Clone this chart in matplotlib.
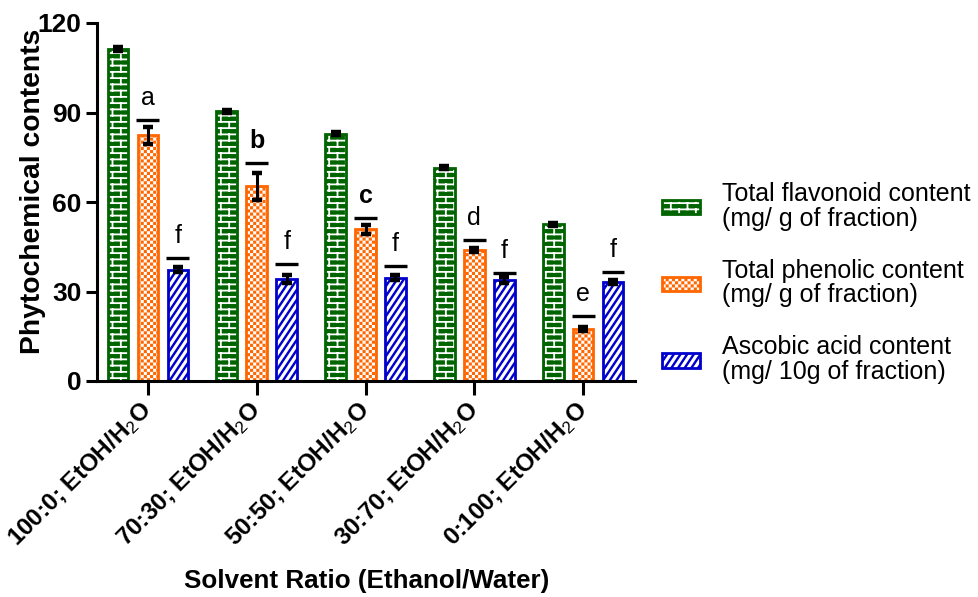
import matplotlib
matplotlib.use("Agg")
import matplotlib.pyplot as plt
import matplotlib.hatch as mhatch
import matplotlib.transforms as mtransforms
from matplotlib.path import Path
from matplotlib.patches import Patch
from matplotlib.legend_handler import HandlerTuple
import numpy as np

plt.rcParams['font.family'] = ['Liberation Sans', 'DejaVu Sans']
plt.rcParams['mathtext.fontset'] = 'custom'
plt.rcParams['mathtext.rm'] = 'Liberation Sans'
plt.rcParams['mathtext.it'] = 'Liberation Sans:italic'
plt.rcParams['mathtext.bf'] = 'Liberation Sans:bold'
plt.rcParams['mathtext.default'] = 'rm'
plt.rcParams['hatch.color'] = 'white'
plt.rcParams['hatch.linewidth'] = 1.3

# ---------------- data ----------------
categories = ["100:0; EtOH/H$_2$O", "70:30; EtOH/H$_2$O", "50:50; EtOH/H$_2$O",
              "30:70; EtOH/H$_2$O", "0:100; EtOH/H$_2$O"]
series_names = ["Total flavonoid content\n(mg/ g of fraction)",
                "Total phenolic content\n(mg/ g of fraction)",
                "Ascobic acid content\n(mg/ 10g of fraction)"]
tfc = [111.3, 90.4, 82.9, 71.5, 52.6]
tfc_err = [0.6, 0.5, 0.4, 0.4, 0.5]
tpc = [82.3, 65.3, 50.8, 43.9, 17.4]
tpc_err = [2.8, 4.5, 1.5, 0.6, 0.6]
aac = [37.3, 34.3, 34.6, 33.9, 33.1]
aac_err = [0.8, 1.3, 0.9, 0.9, 0.7]

tpc_sig_y = [87.5, 73.2, 54.7, 47.3, 21.8]
tpc_sig = ['a', 'b', 'c', 'd', 'e']
tpc_sig_bold = [False, True, True, False, False]
aac_sig_y = [41.2, 39.3, 38.7, 36.3, 36.5]
aac_sig = ['f', 'f', 'f', 'f', 'f']

yticks = [0, 30, 60, 90, 120]


# ---------------- custom fill patterns (brick / checkerboard / braid) ----------------
class _SegHatch(mhatch.HatchPatternBase):
    char = None

    def __init__(self, hatch, density):
        self.active = (hatch is not None) and (self.char in hatch)
        self.polys = self.build() if self.active else []
        self.num_vertices = sum(len(p) + (1 if c else 0) for p, c in self.polys)

    def set_vertices_and_codes(self, vertices, codes):
        i = 0
        for pts, closed in self.polys:
            for k, pt in enumerate(pts):
                vertices[i] = pt
                codes[i] = Path.MOVETO if k == 0 else Path.LINETO
                i += 1
            if closed:
                vertices[i] = pts[0]
                codes[i] = Path.CLOSEPOLY
                i += 1


class BrickHatch(_SegHatch):
    char = 'O'

    def build(self):
        rows, cols = 16, 6
        h = 1.0 / rows
        polys = []
        for r in range(rows):
            y = (r + 0.5) * h
            polys.append(([(0, y), (1, y)], False))
            shift = 0.5 / cols if r % 2 else 0.0
            for c in range(cols):
                x = (c + 0.25) / cols + shift
                if r < rows - 1:
                    polys.append(([(x, y), (x, y + h)], False))
                else:
                    polys.append(([(x, y), (x, 1.0)], False))
                    polys.append(([(x, 0.0), (x, 0.5 * h)], False))
        return polys


class CheckerHatch(_SegHatch):
    char = '.'

    def build(self):
        n = 32
        s = 1.0 / n
        d = 0.009
        polys = []
        for i in range(n):
            for j in range(n):
                if (i + j) % 2 == 0:
                    x0, y0 = i * s + d, j * s + d
                    x1, y1 = (i + 1) * s - d, (j + 1) * s - d
                    polys.append(([(x0, y0), (x1, y0), (x1, y1), (x0, y1)], True))
        return polys


class BraidHatch(_SegHatch):
    char = '*'

    def build(self):
        n = 10
        k = 1.5
        t = 0.012
        polys = []
        xa, xb = -0.05, 1.05
        for j in range(-3 * n, n + 3):
            c = j / n
            polys.append(([(xa, k * xa + c - t), (xb, k * xb + c - t),
                           (xb, k * xb + c + t), (xa, k * xa + c + t)], True))
        return polys


mhatch._hatch_types = [BrickHatch, CheckerHatch, BraidHatch]

# ---------------- style ----------------
colors = ['#006400', '#FF6600', '#0000CC']
hatches = ['O', '.', '*']
width = 0.19
offsets = [-0.275, 0.0, 0.275]

fig = plt.figure(figsize=(9.79, 5.97), dpi=100)
ax = fig.add_axes([97/979, (597-381)/597, (635-97)/979, (381-23)/597])

x = np.arange(len(categories))
values = [tfc, tpc, aac]
errs = [tfc_err, tpc_err, aac_err]
for vals, err, c, h, off in zip(values, errs, colors, hatches, offsets):
    ax.bar(x + off, vals, width, color=c, hatch=h, linewidth=0, zorder=2)
    ax.bar(x + off, vals, width, facecolor='none', edgecolor=c, linewidth=2.0, zorder=2.5)
    ax.errorbar(x + off, vals, yerr=err, fmt='none', ecolor='black', elinewidth=2.2,
                capsize=3.6, capthick=3.2, zorder=3)

# significance markers
line_w = 0.21
ax.hlines(tpc_sig_y, x + offsets[1] - line_w/2, x + offsets[1] + line_w/2,
          colors='black', linewidth=2.4, zorder=3)
ax.hlines(aac_sig_y, x + offsets[2] - line_w/2, x + offsets[2] + line_w/2,
          colors='black', linewidth=2.4, zorder=3)
for xi, yi, s, b in zip(x, tpc_sig_y, tpc_sig, tpc_sig_bold):
    ax.text(xi + offsets[1], yi + 7.3, s, ha='center', va='center', fontsize=18,
            fontweight='bold' if b else 'normal')
for xi, yi, s in zip(x, aac_sig_y, aac_sig):
    ax.text(xi + offsets[2], yi + 7.3, s, ha='center', va='center', fontsize=18)

ax.set_xlim(-0.468, 4.477)
ax.set_ylim(0, 120)
ax.set_yticks(yticks)
ax.set_yticklabels([str(t) for t in yticks], fontsize=19, fontweight='bold')
ax.set_xticks(x)
ax.set_xticklabels(categories, fontsize=17.5, fontweight='bold', rotation=45,
                   ha='right', va='center', rotation_mode='anchor')
shift = mtransforms.ScaledTranslation(7/100, -4/100, fig.dpi_scale_trans)
for lbl in ax.get_xticklabels():
    lbl.set_transform(lbl.get_transform() + shift)

for s in ['top', 'right']:
    ax.spines[s].set_visible(False)
for s in ['left', 'bottom']:
    ax.spines[s].set_linewidth(2.2)
ax.tick_params(axis='both', width=2.2, length=8, direction='out')
ax.tick_params(axis='x', length=10, pad=8)
ax.tick_params(axis='y', pad=3)

ax.set_ylabel("Phytochemical contents", fontsize=20.3, fontweight='bold')
ax.yaxis.set_label_coords(-0.095, 0.531)
ax.set_xlabel("Solvent Ratio (Ethanol/Water)", fontsize=18.7, fontweight='bold')
ax.xaxis.set_label_coords((367-97)/538, -0.524)

handles = []
for c, h in zip(colors, hatches):
    handles.append((Patch(facecolor=c, hatch=h, linewidth=0),
                    Patch(facecolor='none', edgecolor=c, linewidth=2.0)))
leg = fig.legend(handles, series_names, loc='center left',
                 bbox_to_anchor=(662/979, 1 - 283/597), frameon=False,
                 fontsize=18, handlelength=1.52, handleheight=0.5,
                 handletextpad=0.88, labelspacing=1.12, borderpad=0, borderaxespad=0,
                 handler_map={tuple: HandlerTuple(ndivide=1, pad=0)})
for t in leg.get_texts():
    t.set_linespacing(1.05)

fig.savefig("out.png", dpi=100)
